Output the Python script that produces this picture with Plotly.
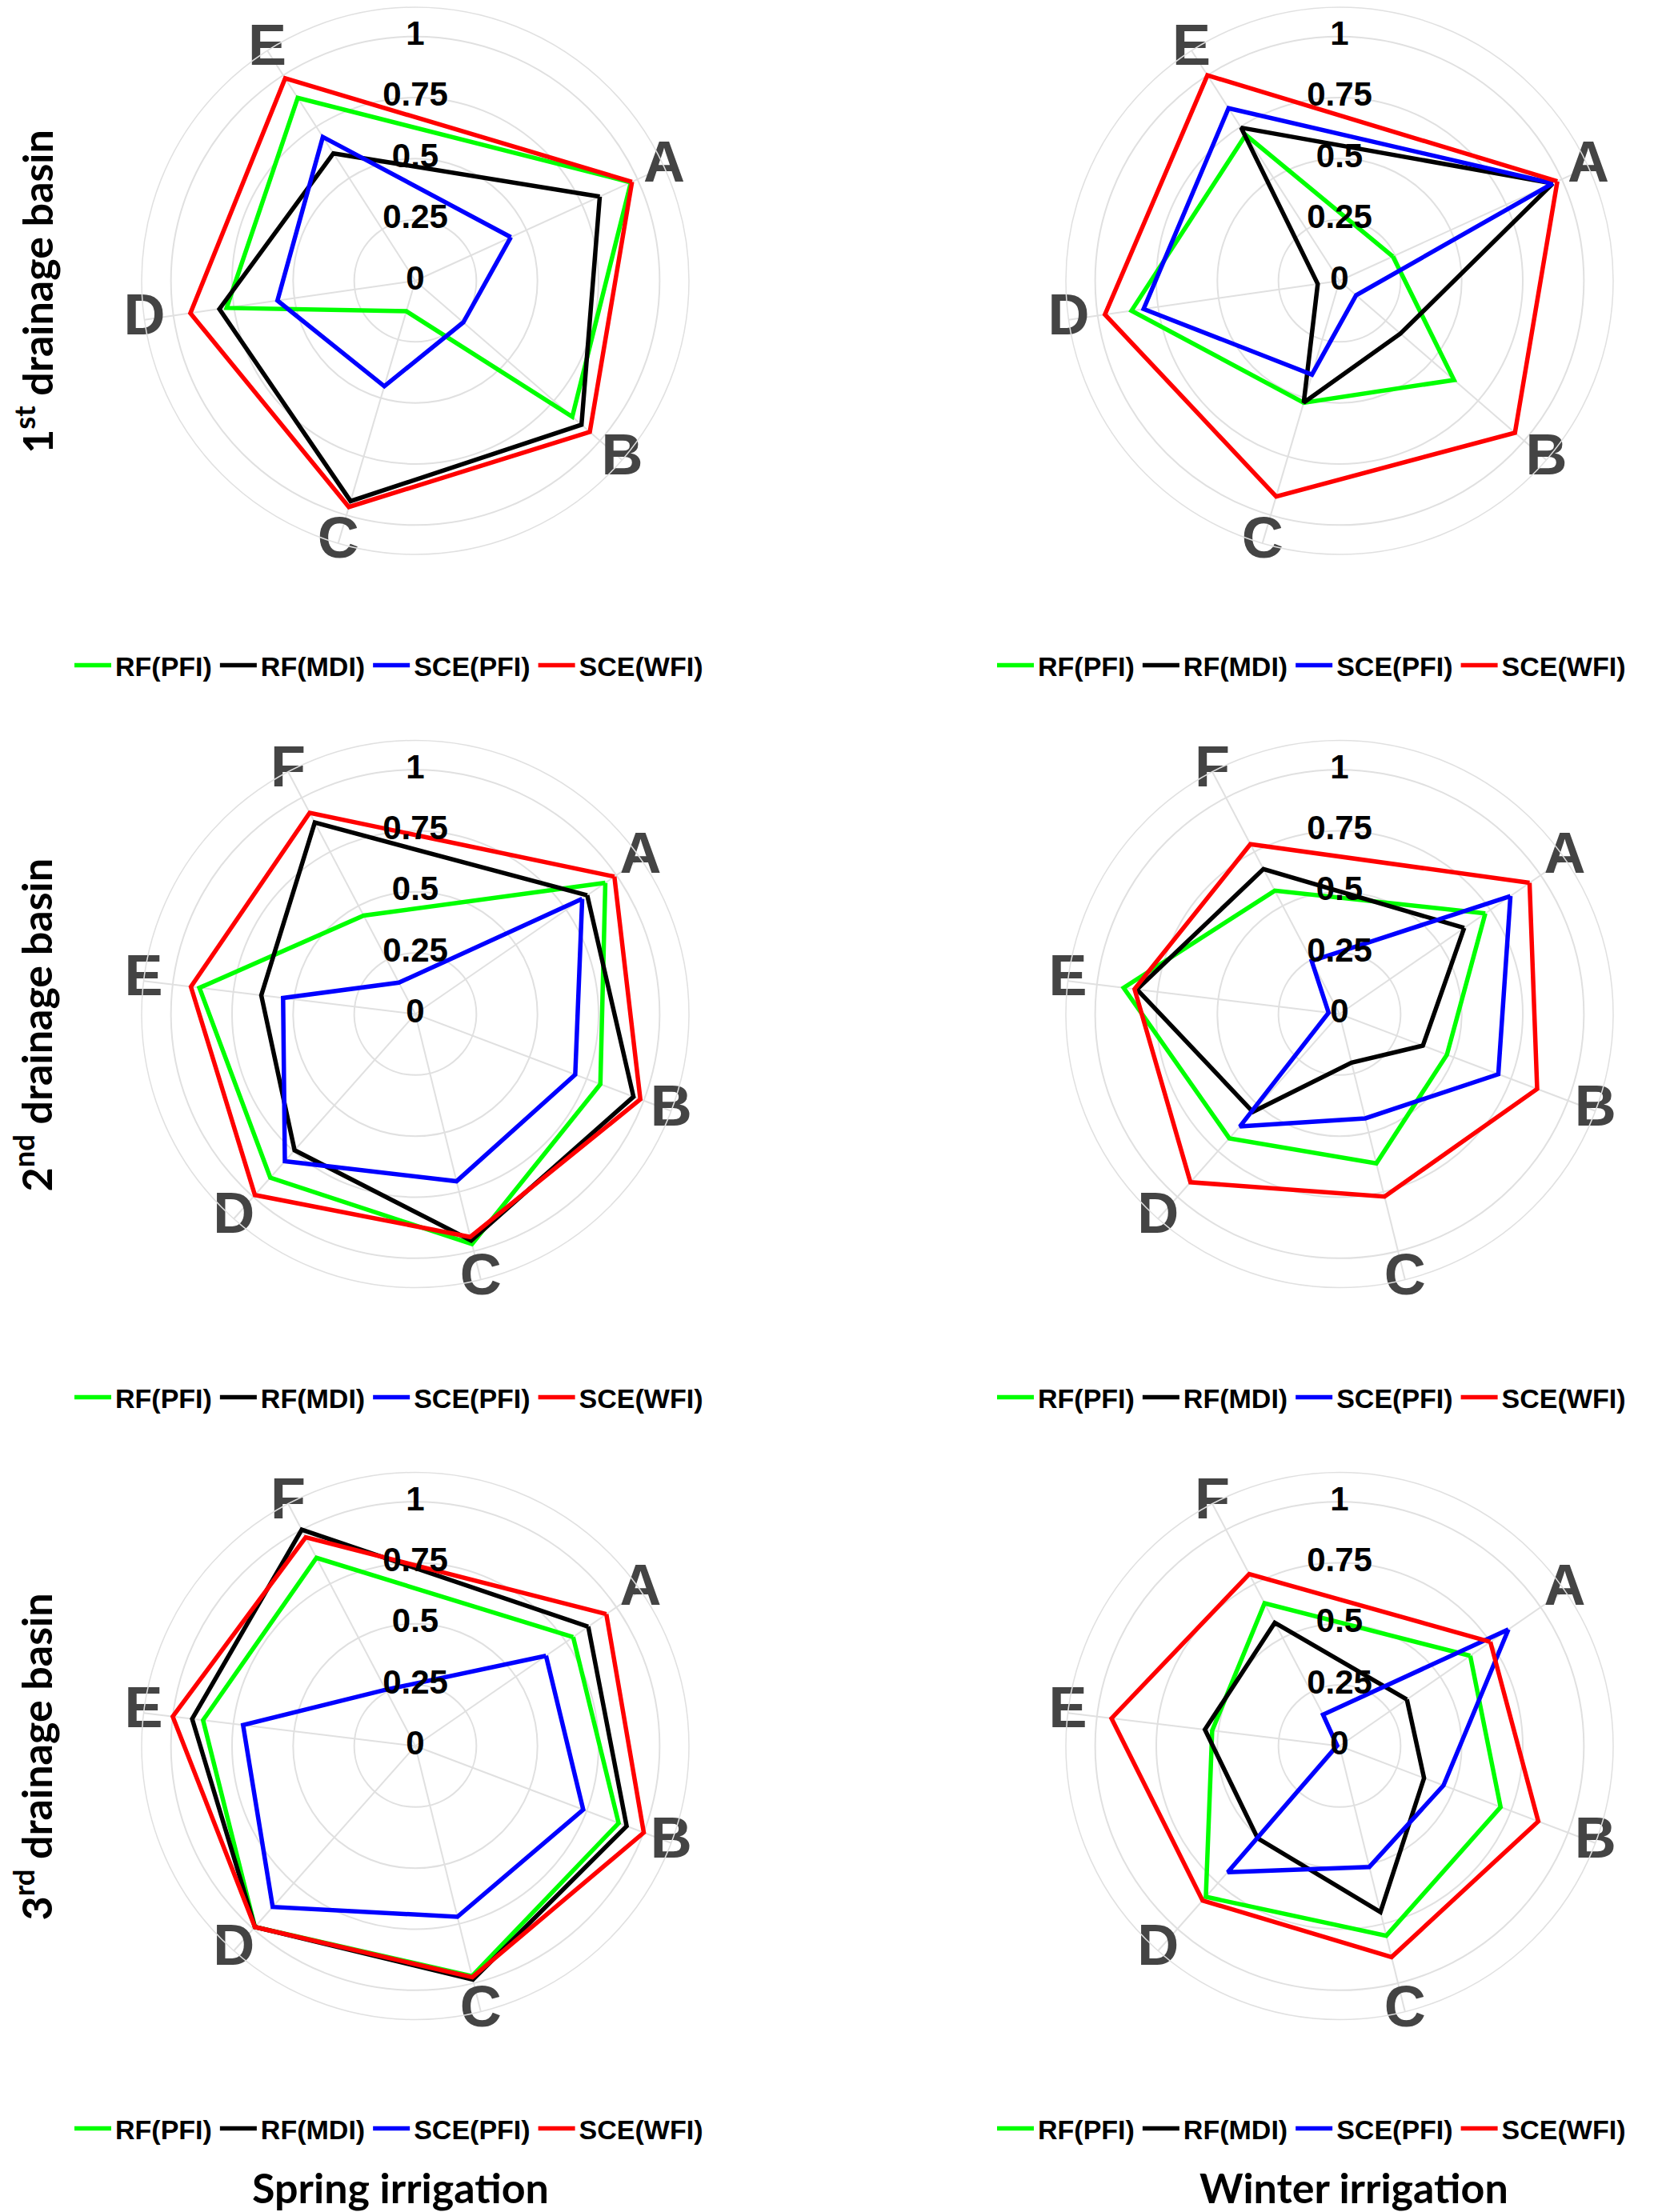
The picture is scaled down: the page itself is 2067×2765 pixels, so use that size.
import plotly.graph_objects as go

W, H = 2067, 2765

# ---------------- data ----------------
cats_basin1 = ["A", "B", "C", "D", "E"]
cats_basin23 = ["A", "B", "C", "D", "E", "F"]

series_names = ["RF(PFI)", "RF(MDI)", "SCE(PFI)", "SCE(WFI)"]
series_colors = ["#00ff00", "#000000", "#0000ff", "#ff0000"]

radial_ticks = [0, 0.25, 0.5, 0.75, 1]
radial_tick_text = ["0", "0.25", "0.5", "0.75", "1"]

# 1st drainage basin - spring irrigation
s1_rf_pfi = [0.97, 0.85, 0.13, 0.78, 0.89]
s1_rf_mdi = [0.83, 0.90, 0.94, 0.81, 0.62]
s1_sce_pfi = [0.43, 0.26, 0.45, 0.57, 0.70]
s1_sce_wfi = [0.975, 0.945, 0.965, 0.93, 0.985]

# 1st drainage basin - winter irrigation
w1_rf_pfi = [0.24, 0.62, 0.52, 0.86, 0.71]
w1_rf_mdi = [0.96, 0.33, 0.52, 0.09, 0.745]
w1_sce_pfi = [0.96, 0.09, 0.40, 0.81, 0.84]
w1_sce_wfi = [0.98, 0.95, 0.92, 0.97, 1.0]

# 2nd drainage basin - spring irrigation
s2_rf_pfi = [0.945, 0.81, 0.97, 0.895, 0.89, 0.455]
s2_rf_mdi = [0.855, 0.955, 0.955, 0.745, 0.635, 0.885]
s2_sce_pfi = [0.83, 0.70, 0.705, 0.805, 0.545, 0.145]
s2_sce_wfi = [0.99, 0.985, 0.94, 0.99, 0.925, 0.93]

# 2nd drainage basin - winter irrigation
w2_rf_pfi = [0.725, 0.47, 0.63, 0.68, 0.89, 0.57]
w2_rf_mdi = [0.62, 0.365, 0.205, 0.535, 0.835, 0.67]
w2_sce_pfi = [0.85, 0.695, 0.44, 0.615, 0.045, 0.245]
w2_sce_wfi = [0.945, 0.865, 0.77, 0.92, 0.845, 0.785]

# 3rd drainage basin - spring irrigation
s3_rf_pfi = [0.785, 0.89, 0.97, 0.99, 0.875, 0.87]
s3_rf_mdi = [0.86, 0.925, 0.985, 0.99, 0.92, 1.0]
s3_sce_pfi = [0.65, 0.735, 0.72, 0.88, 0.71, 0.26]
s3_sce_wfi = [0.95, 1.0, 0.975, 0.99, 1.0, 0.965]

# 3rd drainage basin - winter irrigation
w3_rf_pfi = [0.65, 0.705, 0.80, 0.825, 0.525, 0.66]
w3_rf_mdi = [0.335, 0.37, 0.70, 0.505, 0.555, 0.57]
w3_sce_pfi = [0.84, 0.455, 0.51, 0.69, 0.01, 0.145]
w3_sce_wfi = [0.75, 0.87, 0.89, 0.845, 0.94, 0.795]

row_labels = ["1<sup>st</sup> drainage basin", "2<sup>nd</sup> drainage basin", "3<sup>rd</sup> drainage basin"]
col_titles = ["Spring irrigation", "Winter irrigation"]

# ---------------- layout geometry ----------------
RMAX = 1.12
R_OUT = 342  # px radius of outer ring
col_cx = [511, 1666]
row_cy = [343, 1259.5, 2174.5]
RADIAL_LABEL_ANGLE = 90  # radial tick labels sit straight up

panels = [
    (cats_basin1, [s1_rf_pfi, s1_rf_mdi, s1_sce_pfi, s1_sce_wfi], 0, 0),
    (cats_basin1, [w1_rf_pfi, w1_rf_mdi, w1_sce_pfi, w1_sce_wfi], 0, 1),
    (cats_basin23, [s2_rf_pfi, s2_rf_mdi, s2_sce_pfi, s2_sce_wfi], 1, 0),
    (cats_basin23, [w2_rf_pfi, w2_rf_mdi, w2_sce_pfi, w2_sce_wfi], 1, 1),
    (cats_basin23, [s3_rf_pfi, s3_rf_mdi, s3_sce_pfi, s3_sce_wfi], 2, 0),
    (cats_basin23, [w3_rf_pfi, w3_rf_mdi, w3_sce_pfi, w3_sce_wfi], 2, 1),
]

ARIAL = "Arial, Liberation Sans, sans-serif"
LATO = "Lato, Open Sans, sans-serif"
GRID = "#e0e0e0"

fig = go.Figure()
layout_updates = {}
legend_x = [478, 1631]
legend_y = [824, 1739, 2653]
n_pan = len(panels)

for k, (cats, series, row, col) in enumerate(panels):
    pid = "polar" if k == 0 else f"polar{k+1}"
    oid = f"polar{k+1+n_pan}"
    lid = "legend" if k == 0 else f"legend{k+1}"
    for name, color, vals in zip(series_names, series_colors, series):
        fig.add_trace(go.Scatterpolar(
            r=vals + [vals[0]], theta=cats + [cats[0]], mode="lines",
            line=dict(color=color, width=5.5), name=name,
            subplot=pid, legend=lid, hoverinfo="skip"))
    # angular category labels, centred on the outer ring
    fig.add_trace(go.Scatterpolar(
        r=[RMAX] * len(cats), theta=cats, text=cats, mode="text",
        textfont=dict(family=ARIAL, size=72, color="#444444", weight="bold"),
        showlegend=False, subplot=pid, cliponaxis=False, hoverinfo="skip"))
    # radial tick labels on an overlaid polar with a numeric angular axis
    fig.add_trace(go.Scatterpolar(
        r=radial_ticks, theta=[RADIAL_LABEL_ANGLE] * len(radial_ticks),
        text=radial_tick_text, mode="text",
        textfont=dict(family=ARIAL, size=42, color="#000000", weight="bold"),
        showlegend=False, subplot=oid, cliponaxis=False, hoverinfo="skip"))

    cx, cy = col_cx[col], row_cy[row]
    dom = dict(x=[(cx - R_OUT) / W, (cx + R_OUT) / W],
               y=[1 - (cy + R_OUT) / H, 1 - (cy - R_OUT) / H])
    n = len(cats)
    layout_updates[pid] = dict(
        domain=dom, bgcolor="white",
        radialaxis=dict(range=[0, RMAX], tickvals=radial_ticks, showticklabels=False,
                        ticks="", showline=False, gridcolor=GRID, gridwidth=1.5),
        angularaxis=dict(type="category", categoryorder="array",
                         categoryarray=cats, period=n + 0.5,
                         rotation=90 - 360 / (n + 0.5), direction="clockwise",
                         showticklabels=False, ticks="",
                         showline=True, linecolor=GRID, linewidth=1.5,
                         gridcolor=GRID, gridwidth=1.5),
    )
    layout_updates[oid] = dict(
        domain=dom, bgcolor="rgba(0,0,0,0)",
        radialaxis=dict(range=[0, RMAX], showgrid=False, showline=False,
                        showticklabels=False, ticks=""),
        angularaxis=dict(type="linear", showgrid=False, showline=False,
                         showticklabels=False, ticks=""),
    )
    layout_updates[lid] = dict(
        orientation="h", x=legend_x[col] / W, xanchor="center",
        y=1 - legend_y[row] / H, yanchor="middle", itemwidth=46,
        font=dict(family=ARIAL, size=34, color="black", weight="bold"),
        bgcolor="rgba(0,0,0,0)")

annotations = []
for i, lab in enumerate(row_labels):
    annotations.append(dict(
        text=lab, x=34 / W, y=1 - (row_cy[i] + 14) / H, xref="paper", yref="paper",
        xanchor="center", yanchor="middle", textangle=-90, showarrow=False,
        font=dict(family=LATO, size=52, color="black", weight="bold")))
title_x = [492, 1684]
for j, t in enumerate(col_titles):
    annotations.append(dict(
        text=t, x=title_x[j] / W, y=0, xref="paper", yref="paper",
        xanchor="center", yanchor="bottom", yshift=6, showarrow=False,
        font=dict(family=LATO, size=52, color="black", weight="bold")))

fig.update_layout(
    width=W, height=H, margin=dict(l=0, r=0, t=0, b=0),
    paper_bgcolor="white", plot_bgcolor="white",
    annotations=annotations, **layout_updates)

fig.write_html("out.html")
